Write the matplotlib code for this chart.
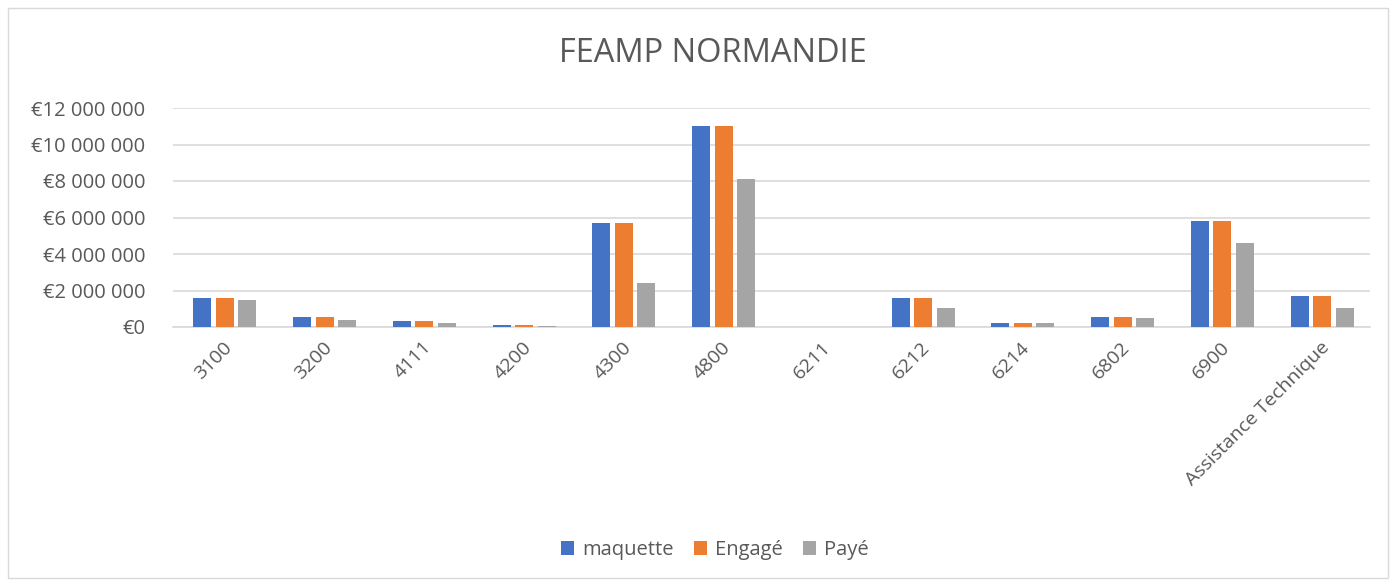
import numpy as np
import matplotlib.pyplot as plt
from matplotlib.patches import Rectangle
from matplotlib.ticker import FuncFormatter

categories = ['3100', '3200', '4111', '4200', '4300', '4800', '6211',
              '6212', '6214', '6802', '6900', 'Assistance Technique']
maquette = [1590000, 530000, 320000, 100000, 5720000, 11040000, 0,
            1590000, 220000, 530000, 5810000, 1720000]
engage = [1590000, 530000, 320000, 100000, 5720000, 11040000, 0,
          1590000, 220000, 530000, 5810000, 1720000]
paye = [1500000, 370000, 220000, 70000, 2390000, 8130000, 0,
        1020000, 200000, 520000, 4600000, 1060000]

plt.rcParams['font.family'] = ['Open Sans', 'DejaVu Sans']
text_color = '#595959'

fig = plt.figure(figsize=(13.96, 5.83), dpi=100)
ax = fig.add_axes([173 / 1396, 1 - 327 / 583, (1370 - 173) / 1396, (327 - 108) / 583])

x = np.arange(len(categories))
w = 0.18
step = 0.225
ax.bar(x - step + 0.02, maquette, w, color='#4472C4', label='maquette', zorder=3)
ax.bar(x + 0.02, engage, w, color='#ED7D31', label='Engagé', zorder=3)
ax.bar(x + step + 0.02, paye, w, color='#A5A5A5', label='Payé', zorder=3)

ax.set_xlim(-0.5, len(categories) - 0.5)
ax.set_ylim(0, 12000000)
ax.set_yticks(np.arange(0, 12000001, 2000000))
ax.yaxis.set_major_formatter(FuncFormatter(
    lambda v, p: '€' + f'{int(v):,}'.replace(',', ' ')))
ax.grid(axis='y', color='#d9d9d9', linewidth=1.2, zorder=0)
for s in ['top', 'right', 'left']:
    ax.spines[s].set_visible(False)
ax.spines['bottom'].set_color('#d9d9d9')
ax.spines['bottom'].set_linewidth(1.2)
ax.tick_params(axis='both', length=0, labelsize=14, colors=text_color)
ax.tick_params(axis='y', labelsize=14.5, pad=20)
ax.tick_params(axis='x', pad=8)
ax.set_xticks(x)
ax.set_xticklabels(categories, rotation=45, ha='right', rotation_mode='anchor')

fig.text(0.511, 1 - 53 / 583, 'FEAMP NORMANDIE', ha='center', va='center',
         fontsize=23.5, color=text_color)

fig.legend(loc='center', bbox_to_anchor=(0.512, 1 - 550 / 583), ncol=3,
           frameon=False, fontsize=14.5, handlelength=0.65, handleheight=0.65,
           handletextpad=0.4, columnspacing=1.0, labelcolor=text_color)

fig.patches.append(Rectangle((8 / 1396, 5 / 583), 1380 / 1396, 570 / 583,
                             transform=fig.transFigure, fill=False,
                             edgecolor='#d9d9d9', linewidth=1))

fig.savefig('out.png', dpi=100)
